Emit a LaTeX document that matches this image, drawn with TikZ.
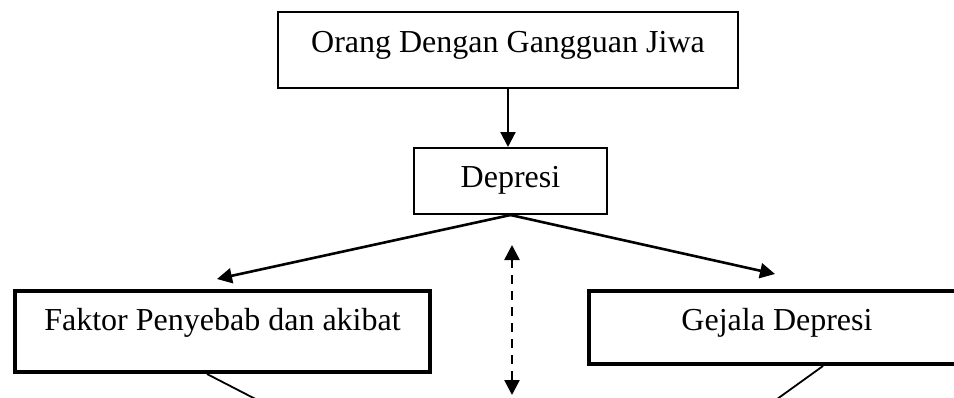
\documentclass[tikz,border=0pt]{standalone}
\usepackage{fontspec}
\setmainfont{Liberation Serif}
\usetikzlibrary{positioning}
\usetikzlibrary{arrows.meta}

\begin{document}
\begin{tikzpicture}
	[x=0.5pt, y=-0.5pt, line width=1.1pt, >={Triangle[length=7.5pt,width=7.5pt]},
	 box/.style = {draw, rectangle, inner xsep=0pt, inner ysep=0pt, line width=1pt, font=\fontsize{16}{19}\selectfont},
	 bold/.style = {box, line width=2pt}]
	\path[use as bounding box, clip] (0,0) rectangle (954,397);
	\node[box, minimum width=230pt, text height=20pt, text depth=18pt] (odgj) at (508,50) {Orang Dengan Gangguan Jiwa};
	\node[box, minimum width=96.5pt, text height=19.5pt, text depth=13.5pt] (dep) [below = 29pt of odgj, xshift=1.25pt] {Depresi};
	\node[bold, minimum width=207.5pt, text height=19.5pt, text depth=21pt] (fak) [below = 37pt of dep, xshift=-144pt] {Faktor Penyebab dan akibat};
	\node[bold, minimum width=188pt, text height=19.5pt, text depth=17pt] (gej) [below = 37pt of dep, xshift=133.25pt] {Gejala Depresi};
	\coordinate (dbot) at (512,395);
	\coordinate (fend) at (271,407);
	\coordinate (gend) at (766,407);
	\draw[->] (odgj) -- (odgj |- dep.north);
	\draw[->, line width=1.3pt] (dep.south) -- ([xshift=-2.75pt, yshift=5pt]fak.north);
	\draw[->, line width=1.3pt] (dep.south) -- ([xshift=-1pt, yshift=7.5pt]gej.north);
	\draw[<->, line width=1.3pt, dash pattern=on 4.5pt off 3.5pt] ([xshift=0.75pt, yshift=-15pt]dep.south) -- (dbot);
	\draw[line width=0.9pt] ([xshift=-7.75pt]fak.south) -- (fend);
	\draw[line width=0.9pt] ([xshift=23pt]gej.south) -- (gend);
\end{tikzpicture}
\end{document}
